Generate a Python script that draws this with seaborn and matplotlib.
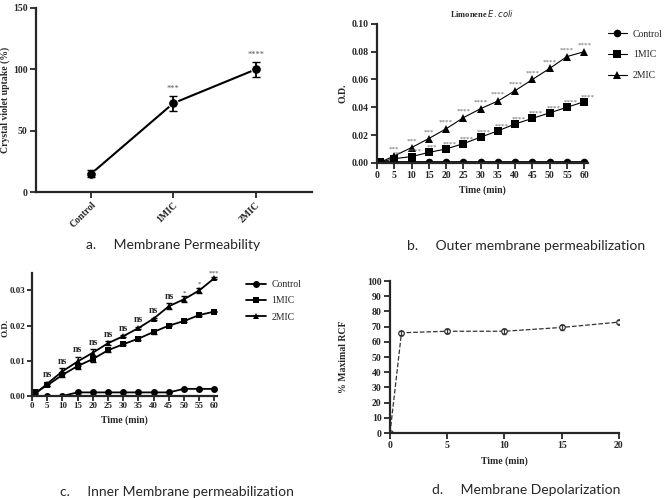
import numpy as np
import pandas as pd
import matplotlib
matplotlib.use("Agg")
import matplotlib.pyplot as plt
import seaborn as sns

sns.set_style("ticks")
plt.rcParams["font.family"] = ["Liberation Serif", "DejaVu Serif"]

# panel a - crystal violet uptake
a_groups = ["Control", "1MIC", "2MIC"]
a_mean = [15, 72.5, 100]
a_err = [3, 6, 6]
a_stars = ["", "***", "****"]

# panel b - outer membrane (NPN), Limonene E. coli
times = [1, 5, 10, 15, 20, 25, 30, 35, 40, 45, 50, 55, 60]
b_control = [0.0005, 0.0005, 0.0005, 0.0005, 0.0005, 0.0005, 0.0005, 0.0005, 0.0005, 0.0005, 0.0005, 0.0005, 0.0005]
b_1mic = [0.0005, 0.003, 0.0045, 0.0075, 0.010, 0.0138, 0.0185, 0.023, 0.028, 0.032, 0.036, 0.040, 0.044]
b_2mic = [0.0005, 0.005, 0.011, 0.0175, 0.0245, 0.0325, 0.039, 0.0445, 0.052, 0.060, 0.068, 0.0765, 0.080]
b_stars_1mic = ["", "**", "****", "***", "****", "****", "****", "****", "****", "****", "****", "****", "****"]
b_stars_2mic = ["", "***", "***", "***", "****", "****", "****", "****", "****", "****", "****", "****", "****"]

# panel c - inner membrane (ONPG)
c_control = [0.0, 0.0, 0.0, 0.001, 0.001, 0.001, 0.001, 0.001, 0.001, 0.001, 0.002, 0.002, 0.002]
c_1mic = [0.001, 0.003, 0.006, 0.0085, 0.0105, 0.013, 0.0147, 0.0163, 0.0182, 0.020, 0.0213, 0.023, 0.024]
c_1mic_err = [0.0003, 0.0003, 0.0007, 0.0009, 0.0009, 0.0006, 0.0003, 0.0005, 0.0005, 0.0002, 0.0002, 0.0002, 0.0002]
c_2mic = [0.0005, 0.0035, 0.007, 0.0098, 0.0123, 0.015, 0.017, 0.0193, 0.022, 0.0255, 0.0275, 0.030, 0.0335]
c_2mic_err = [0.0003, 0.0006, 0.0009, 0.0013, 0.0010, 0.0005, 0.0003, 0.0003, 0.0003, 0.0008, 0.0008, 0.0008, 0.0003]
c_stars = ["", "ns", "ns", "ns", "ns", "ns", "ns", "ns", "ns", "ns", "*", "*", "***"]

# panel d - membrane depolarization
d_time = [0, 1, 5, 10, 15, 20]
d_rcf = [0, 66, 67, 67, 69.5, 73]
d_err = [0, 1.2, 1.2, 1.6, 1.6, 1.2]

fig = plt.figure(figsize=(6.69, 4.98), dpi=100)


def style_axes(ax, size=7, pad=2, length=4):
    sns.despine(ax=ax)
    for s in ["left", "bottom"]:
        ax.spines[s].set_linewidth(1.6)
    ax.tick_params(width=1.3, length=length, labelsize=size, pad=pad)
    for lab in ax.get_xticklabels() + ax.get_yticklabels():
        lab.set_fontweight("bold")


# ---- a
ax_a = fig.add_axes([0.054, 0.614, 0.412, 0.37])
dfa = pd.DataFrame({"group": a_groups, "uptake": a_mean})
sns.lineplot(data=dfa, x="group", y="uptake", ax=ax_a, color="black", lw=1.5,
             marker="o", markersize=7, sort=False)
ax_a.errorbar(range(3), a_mean, yerr=a_err, fmt="none", ecolor="black", capsize=3, elinewidth=1.3)
for i in range(3):
    if a_stars[i]:
        ax_a.text(i, a_mean[i] + a_err[i] + 4, a_stars[i], ha="center", fontsize=6, color="#555555")
ax_a.set_xlim(-0.667, 2.68)
ax_a.set_ylim(0, 150)
ax_a.set_yticks([0, 50, 100, 150])
ax_a.set_xlabel("")
ax_a.set_ylabel("Crystal violet uptake (%)", fontsize=7, fontweight="bold")
ax_a.yaxis.set_label_coords(-0.095, 0.5)
style_axes(ax_a)
ax_a.tick_params(axis="x", labelrotation=45)
for lab in ax_a.get_xticklabels():
    lab.set_ha("right")
    lab.set_rotation_mode("anchor")

# ---- b
ax_b = fig.add_axes([0.5635, 0.673, 0.315, 0.279])
dfb = pd.DataFrame({"t": times * 3,
                    "od": b_control + b_1mic + b_2mic,
                    "grp": ["Control"] * 13 + ["1MIC"] * 13 + ["2MIC"] * 13})
sns.lineplot(data=dfb, x="t", y="od", hue="grp", style="grp", ax=ax_b,
             palette=["black"] * 3, markers=["o", "s", "^"], dashes=False,
             markersize=5.5, lw=0.8, markeredgewidth=0)
ax_b.lines[0].set_linewidth(2)
for i, t in enumerate(times):
    if b_stars_2mic[i]:
        ax_b.text(t, b_2mic[i] + 0.0035, b_stars_2mic[i], ha="center", fontsize=5, color="#666666")
    if b_stars_1mic[i]:
        ax_b.text(t + 1, b_1mic[i] + 0.0025, b_stars_1mic[i], ha="center", fontsize=5, color="#666666")
ax_b.set_xlim(0, 61)
ax_b.set_ylim(0, 0.10)
ax_b.set_xticks(range(0, 61, 5))
ax_b.set_yticks([0, 0.02, 0.04, 0.06, 0.08, 0.10])
ax_b.set_yticklabels(["0.00", "0.02", "0.04", "0.06", "0.08", "0.10"])
ax_b.set_xlabel("Time (min)", fontsize=7, fontweight="bold")
ax_b.set_ylabel("O.D.", fontsize=7, fontweight="bold")
ax_b.yaxis.set_label_coords(-0.142, 0.5)
ax_b.set_title("Limonene $\\it{E. coli}$", fontsize=6, fontweight="bold", pad=5)
ax_b.legend(loc="upper left", bbox_to_anchor=(0.895, 0.958), bbox_transform=fig.transFigure,
            frameon=False, fontsize=7, handlelength=2, labelspacing=1.2, handletextpad=0.6)
style_axes(ax_b)

# ---- c
ax_c = fig.add_axes([0.048, 0.205, 0.277, 0.247])
dfc = pd.DataFrame({"t": times * 3,
                    "od": c_control + c_1mic + c_2mic,
                    "grp": ["Control"] * 13 + ["1MIC"] * 13 + ["2MIC"] * 13})
sns.lineplot(data=dfc, x="t", y="od", hue="grp", style="grp", ax=ax_c,
             palette=["black"] * 3, markers=["o", "s", "^"], dashes=False,
             markersize=5, lw=1.3, markeredgewidth=0)
ax_c.errorbar(times, c_1mic, yerr=c_1mic_err, fmt="none", ecolor="black", capsize=2, elinewidth=0.9)
ax_c.errorbar(times, c_2mic, yerr=c_2mic_err, fmt="none", ecolor="black", capsize=2, elinewidth=0.9)
for i, t in enumerate(times):
    if c_stars[i] == "ns":
        ax_c.text(t, c_2mic[i] + c_2mic_err[i] + 0.0013, "ns", ha="center", fontsize=7,
                  fontweight="bold")
    elif c_stars[i]:
        ax_c.text(t, c_2mic[i] + c_2mic_err[i] + 0.0006, c_stars[i], ha="center", fontsize=5,
                  color="#444444")
ax_c.set_xlim(0, 61)
ax_c.set_ylim(0, 0.035)
ax_c.set_xticks(range(0, 61, 5))
ax_c.set_yticks([0, 0.01, 0.02, 0.03])
ax_c.set_yticklabels(["0.00", "0.01", "0.02", "0.03"])
ax_c.set_xlabel("Time (min)", fontsize=7, fontweight="bold")
ax_c.set_ylabel("O.D.", fontsize=6.5, fontweight="bold")
ax_c.yaxis.set_label_coords(-0.122, 0.55)
ax_c.legend(loc="upper left", bbox_to_anchor=(0.355, 0.455), bbox_transform=fig.transFigure,
            frameon=False, fontsize=7, handlelength=2, labelspacing=0.75, handletextpad=0.6)
style_axes(ax_c, size=6.5, pad=1, length=3.5)

# ---- d
ax_d = fig.add_axes([0.583, 0.1305, 0.342, 0.305])
dfd = pd.DataFrame({"t": d_time, "rcf": d_rcf})
sns.lineplot(data=dfd, x="t", y="rcf", ax=ax_d, color="#333333", lw=0.9, linestyle="--",
             marker="o", markersize=4, markerfacecolor="white", markeredgecolor="#333333",
             markeredgewidth=0.9)
ax_d.errorbar(d_time, d_rcf, yerr=d_err, fmt="none", ecolor="#333333", capsize=1.5, elinewidth=0.8)
ax_d.set_xlim(0, 20)
ax_d.set_ylim(0, 100)
ax_d.set_xticks([0, 5, 10, 15, 20])
ax_d.set_yticks(range(0, 101, 10))
ax_d.set_xlabel("Time (min)", fontsize=7, fontweight="bold")
ax_d.set_ylabel("% Maximal RCF", fontsize=7, fontweight="bold")
ax_d.yaxis.set_label_coords(-0.185, 0.5)
style_axes(ax_d)

# captions
cap = dict(fontsize=10, family=["Lato", "DejaVu Sans"], ha="center", va="center")
fig.text(0.258, 1 - 245 / 498, "a.     Membrane Permeability", **cap)
fig.text(0.787, 1 - 246 / 498, "b.     Outer membrane permeabilization", **cap)
fig.text(0.265, 1 - 492 / 498, "c.     Inner Membrane permeabilization", **cap)
fig.text(0.787, 1 - 490 / 498, "d.     Membrane Depolarization", **cap)

fig.savefig("out.png", dpi=100)
